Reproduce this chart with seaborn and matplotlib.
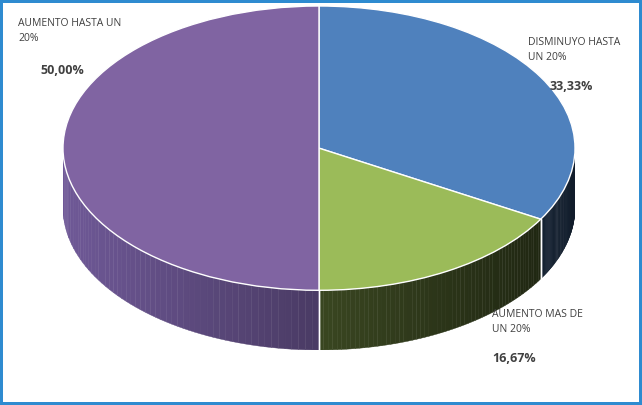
import numpy as np
import matplotlib
matplotlib.use("Agg")
import matplotlib.pyplot as plt
import seaborn as sns
from matplotlib.colors import to_rgb

sns.set_style("white")
plt.rcParams['font.family'] = ['Open Sans', 'DejaVu Sans']

# Data
categories = ["DISMINUYO HASTA\nUN 20%", "AUMENTO MAS DE\nUN 20%", "AUMENTO HASTA UN\n20%"]
values = [33.33, 16.67, 50.00]
pct_labels = ["33,33%", "16,67%", "50,00%"]
colors = ["#4f81bd", "#9bbb59", "#8064a2"]
side_colors = ["#2c4a70", "#4a5a2a", "#5e4b80"]

W, H = 642, 405
fig = plt.figure(figsize=(W / 100, H / 100), dpi=100)
fig.patch.set_edgecolor("#2e8bd0")
fig.patch.set_linewidth(3)

depth = 0.42
ax = fig.add_axes([63 / W, (H - 350) / H, 512 / W, 344 / H])

# slice angles (clockwise from top)
fracs = np.array(values) / np.sum(values)
ends = 90 - 360 * np.cumsum(fracs)
starts = np.concatenate([[90], ends[:-1]])

# side walls: only the front half (angles between -180 and 0)
for s, e, c in zip(starts, ends, side_colors):
    lo, hi = max(e, -180), min(s, 0)
    if lo >= hi:
        continue
    ts = np.linspace(lo, hi, 60)
    base = np.array(to_rgb(c))
    for t0, t1 in zip(ts[:-1], ts[1:]):
        tt = np.radians([t0, t1])
        shade = 0.78 - 0.4 * np.cos(np.radians((t0 + t1) / 2))
        col = np.clip(base * shade, 0, 1)
        x = np.cos(tt)
        y = np.sin(tt)
        ax.fill([x[0], x[1], x[1], x[0]], [y[0], y[1], y[1] - depth, y[0] - depth],
                color=col, lw=0.3, ec=col, zorder=1)
    for a in (lo, hi):
        if -180 < a < 0:
            ax.plot([np.cos(np.radians(a))] * 2,
                    [np.sin(np.radians(a)), np.sin(np.radians(a)) - depth],
                    color="white", lw=1, zorder=2)

# top ellipse
wedges, _ = ax.pie(values, colors=colors, startangle=90, counterclock=False,
                   radius=1, wedgeprops=dict(edgecolor="white", linewidth=1))
for w in wedges:
    w.set_zorder(3)
ax.set_aspect("auto")
ax.set_xlim(-1, 1)
ax.set_ylim(-1 - depth, 1)
ax.axis("off")

# labels
pos = [(528, 50, 550, 86), (492, 322, 492, 358), (18, 31, 40, 70)]
for (lx, ly, px, py), cat, p in zip(pos, categories, pct_labels):
    fig.text(lx / W, 1 - ly / H, cat, fontsize=7.5, color="#404040", va="center",
             ha="left", linespacing=1.5)
    fig.text(px / W, 1 - py / H, p, fontsize=9, fontweight="bold", color="#404040",
             va="center", ha="left")

fig.savefig("out.png", dpi=100, edgecolor=fig.get_edgecolor())
